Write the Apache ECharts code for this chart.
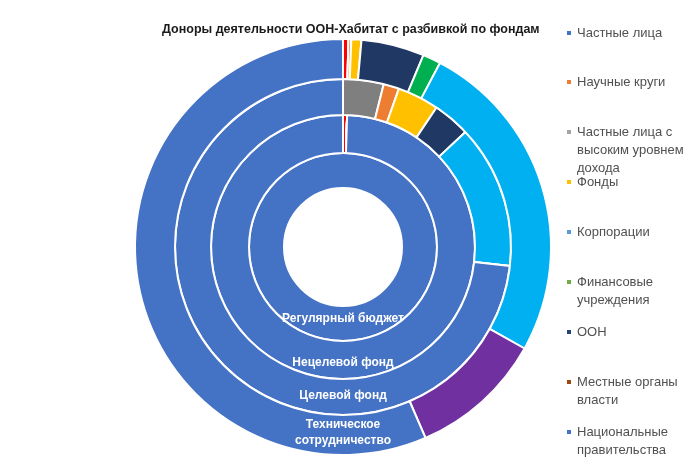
<!DOCTYPE html>
<html>
<head>
<meta charset="utf-8">
<script src="https://cdn.jsdelivr.net/npm/echarts@6/dist/echarts.min.js"></script>
<style>
    html, body { margin: 0; padding: 0; background: #fff; }
    #chart { width: 692px; height: 475px; }
</style>
</head>
<body>
<div id="chart"></div>
<script>
// 类别（饼图中的顺序，顺时针从12点开始）
var categories = [
    'Частные лица',
    'Частные лица с высоким уровнем дохода',
    'Научные круги',
    'Фонды',
    'Корпорации',
    'Финансовые учреждения',
    'ООН',
    'Местные органы власти',
    'Национальные правительства'
];
// 各环的数据（%，从内到外）
var regularBudget = [0, 0, 0, 0, 0, 0, 0, 0, 100];
var nonTargetFund = [0.5, 0, 0, 0, 0, 0, 0, 0, 99.5];
var targetFund = [0, 3.9, 1.5, 4.0, 3.6, 0, 13.8, 0, 73.2];
var techCooperation = [0.42, 0, 0.22, 0.78, 4.9, 1.4, 25.4, 10.4, 56.5];

var ringNames = ['Регулярный бюджет', 'Нецелевой фонд', 'Целевой фонд', 'Техническое\nсотрудничество'];
var ringValues = [regularBudget, nonTargetFund, targetFund, techCooperation];

// 图例顺序
var legendNames = [
    'Частные лица',
    'Научные круги',
    'Частные лица с высоким уровнем дохода',
    'Фонды',
    'Корпорации',
    'Финансовые учреждения',
    'ООН',
    'Местные органы власти',
    'Национальные правительства'
];

// 扇区颜色
var sliceColors = {
    'Частные лица': '#FF0000',
    'Частные лица с высоким уровнем дохода': '#7F7F7F',
    'Научные круги': '#ED7D31',
    'Фонды': '#FFC000',
    'Корпорации': '#203864',
    'Финансовые учреждения': '#00B050',
    'ООН': '#00B0F0',
    'Местные органы власти': '#7030A0',
    'Национальные правительства': '#4472C4'
};
// 图例图标颜色（与扇区颜色不同）
var legendColors = {
    'Частные лица': '#4472C4',
    'Научные круги': '#ED7D31',
    'Частные лица с высоким уровнем дохода': '#A5A5A5',
    'Фонды': '#FFC000',
    'Корпорации': '#5B9BD5',
    'Финансовые учреждения': '#70AD47',
    'ООН': '#264478',
    'Местные органы власти': '#9E480E',
    'Национальные правительства': '#4472C4'
};
// 图例换行
var legendWrap = {
    'Частные лица с высоким уровнем дохода': 'Частные лица с\nвысоким уровнем\nдохода',
    'Финансовые учреждения': 'Финансовые\nучреждения',
    'Местные органы власти': 'Местные органы\nвласти',
    'Национальные правительства': 'Национальные\nправительства'
};

var font = '"Liberation Sans", Arial, sans-serif';
var cx = 343, cy = 247;
var radii = [[59, 94], [94, 132], [132, 168], [168, 208]];
var labelOffsets = [72, 116, 149, 186];

var series = ringValues.map(function (values, r) {
    return {
        type: 'pie',
        name: ringNames[r],
        center: [cx, cy],
        radius: radii[r],
        startAngle: 90,
        clockwise: true,
        animation: false,
        silent: true,
        label: { show: false },
        labelLine: { show: false },
        itemStyle: { borderColor: '#fff', borderWidth: 2 },
        data: categories.map(function (name, i) {
            return { name: name, value: values[i], itemStyle: { color: sliceColors[name] } };
        })
    };
});

// 图例：每项单独一个 legend，图标与第一行文字对齐
var lineH = 18;
function wrapLines(n) {
    return (legendWrap[n] || n).split('\n');
}
var legends = legendNames.map(function (name, i) {
    var lines = wrapLines(name).length;
    return {
        orient: 'vertical',
        left: 565,
        top: Math.round(32.5 + i * 49.9 - (2 * lines - 1) * lineH / 2),
        padding: 0,
        selectedMode: false,
        itemWidth: 6,
        itemHeight: 6,
        icon: 'rect',
        formatter: function (n) {
            var ls = wrapLines(n);
            // 上方补空行，让第一行与图标居中对齐
            return new Array(ls.length).join('\n') + ls.join('\n');
        },
        textStyle: {
            fontFamily: font,
            fontSize: 13,
            color: '#505050',
            lineHeight: lineH
        },
        data: [{ name: name, itemStyle: { color: legendColors[name] } }]
    };
});

var graphics = ringNames.map(function (t, r) {
    return {
        type: 'text',
        x: cx,
        y: cy + labelOffsets[r],
        z: 100,
        silent: true,
        style: {
            text: t,
            align: 'center',
            verticalAlign: 'middle',
            fill: '#fff',
            font: 'bold 12px ' + font,
            lineHeight: 16
        }
    };
});

var chart = echarts.init(document.getElementById('chart'));
chart.setOption({
    animation: false,
    title: {
        text: 'Доноры деятельности ООН-Хабитат с разбивкой по фондам',
        left: 162,
        top: 23,
        padding: 0,
        textStyle: { fontFamily: font, fontSize: 12.5, fontWeight: 'bold', color: '#1a1a1a' }
    },
    legend: legends,
    graphic: graphics,
    series: series
});
</script>
</body>
</html>
